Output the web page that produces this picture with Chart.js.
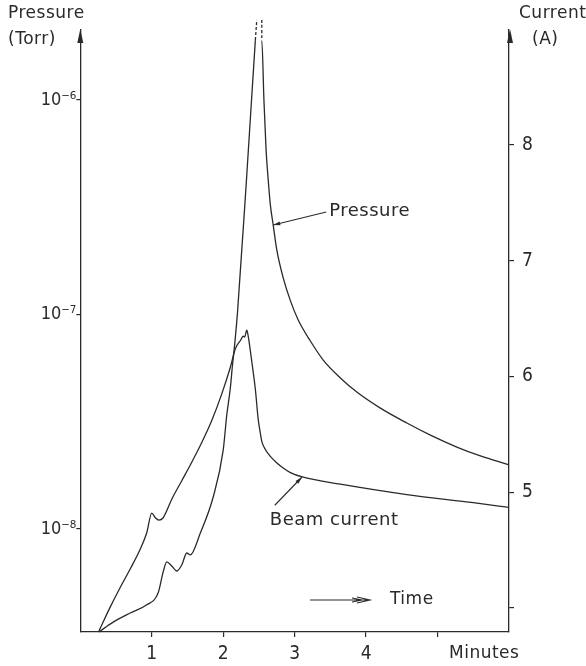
<!DOCTYPE html>
<html>
<head>
<meta charset="utf-8">
<script src="https://cdn.jsdelivr.net/npm/chart.js@4.4.1/dist/chart.umd.min.js"></script>
<style>
  html, body { margin: 0; padding: 0; background: #fff; }
  #wrap { width: 586px; height: 666px; }
</style>
</head>
<body>
<div id="wrap"><canvas id="c" width="586" height="666"></canvas></div>
<script>
// Chamber pressure (Torr, log scale) and beam current (A) against time (minutes)
const pressureTime = [0.26, 0.46, 0.70, 0.93, 1.09, 1.16, 1.21, 1.28, 1.35, 1.42, 1.49, 1.54, 1.68, 1.86, 2.00, 2.05, 2.10, 2.13, 2.16, 2.20, 2.33, 2.45, 2.47, 2.50, 2.54, 2.54, 2.57, 2.60, 2.63, 2.66, 2.70, 2.75, 2.84, 2.94, 3.05, 3.22, 3.40, 3.64, 3.87, 4.20, 4.57, 4.90, 5.27, 5.60, 6.00];
const pressureTorr = [3.31e-9, 3.68e-9, 4.06e-9, 4.43e-9, 5.04e-9, 6.31e-9, 7.02e-9, 6.72e-9, 6.37e-9, 6.79e-9, 7.73e-9, 7.57e-9, 9.58e-9, 1.41e-8, 2.33e-8, 3.40e-8, 4.54e-8, 5.81e-8, 7.21e-8, 1.02e-7, 4.47e-7, 1.90e-6, 2.36e-6, null, 2.36e-6, 1.90e-6, 1.00e-6, 5.85e-7, 4.24e-7, 3.24e-7, 2.61e-7, 2.00e-7, 1.48e-7, 1.16e-7, 9.42e-8, 7.52e-8, 6.13e-8, 5.06e-8, 4.35e-8, 3.66e-8, 3.12e-8, 2.74e-8, 2.41e-8, 2.19e-8, 1.99e-8];

const currentTime = [0.26, 0.42, 0.56, 0.70, 0.84, 0.93, 1.00, 1.05, 1.10, 1.16, 1.28, 1.42, 1.56, 1.70, 1.84, 1.98, 2.10, 2.17, 2.25, 2.28, 2.30, 2.33, 2.35, 2.40, 2.45, 2.49, 2.52, 2.54, 2.59, 2.66, 2.74, 2.84, 2.94, 3.12, 3.64, 4.57, 5.50, 6.00];
const currentAmps = [3.80, 4.01, 4.18, 4.34, 4.51, 4.65, 4.82, 4.78, 4.76, 4.78, 4.94, 5.10, 5.26, 5.43, 5.62, 5.85, 6.08, 6.24, 6.32, 6.35, 6.34, 6.40, 6.35, 6.13, 5.89, 5.63, 5.51, 5.44, 5.37, 5.31, 5.26, 5.21, 5.17, 5.13, 5.07, 4.98, 4.91, 4.87];

const timeTicks = [1, 2, 3, 4, 5];
const timeLabels = ['1', '2', '3', '4', ''];
const pressureTicks = [1e-8, 1e-7, 1e-6];
const pressureLabels = ['10⁻⁸', '10⁻⁷', '10⁻⁶'];
const currentTicks = [4, 5, 6, 7, 8];
const currentLabels = ['', '5', '6', '7', '8'];

const INK = '#2a2a2a';
const TEXT_FONT = '17px "DejaVu Sans", sans-serif';
const NOTE_FONT = '18px "DejaVu Sans", sans-serif';
const DIGIT_FONT = { family: '"Liberation Sans Narrow", "DejaVu Sans Condensed", "DejaVu Sans", sans-serif', size: 19 };

function labelFrom(values, labels) {
  return v => {
    const i = values.findIndex(t => Math.abs(t - v) < 1e-12 || Math.abs(t / v - 1) < 1e-6);
    return i >= 0 ? labels[i] : '';
  };
}

function arrowHead(ctx, fromX, fromY, tipX, tipY, len, half) {
  const ang = Math.atan2(tipY - fromY, tipX - fromX);
  ctx.beginPath();
  ctx.moveTo(tipX, tipY);
  ctx.lineTo(tipX - len * Math.cos(ang) + half * Math.sin(ang), tipY - len * Math.sin(ang) - half * Math.cos(ang));
  ctx.lineTo(tipX - len * Math.cos(ang) - half * Math.sin(ang), tipY - len * Math.sin(ang) + half * Math.cos(ang));
  ctx.closePath();
  ctx.fill();
}

// Axis arrows, titles and the hand-lettered curve labels
const notes = {
  id: 'notes',
  afterDraw(chart) {
    const { ctx, chartArea: area, scales } = chart;
    const { x, p, a } = scales;
    ctx.save();
    ctx.fillStyle = INK;
    ctx.strokeStyle = INK;
    ctx.lineWidth = 1.1;

    // arrowheads at the top of both vertical axes
    [area.left, area.right + 1].forEach(ax => {
      ctx.beginPath();
      ctx.moveTo(ax, area.top - 1);
      ctx.lineTo(ax - 3, area.top + 13);
      ctx.lineTo(ax + 3, area.top + 13);
      ctx.closePath();
      ctx.fill();
    });

    ctx.font = TEXT_FONT;
    ctx.textBaseline = 'middle';
    ctx.textAlign = 'left';
    ctx.letterSpacing = '0.5px';
    ctx.fillText('Pressure', 8, 14);
    ctx.fillText('(Torr)', 8, 40);
    ctx.fillText('Current', area.right + 10, 14);
    ctx.fillText('(A)', area.right + 23, 40);
    ctx.fillText('Minutes', area.right - 60, 654);

    // "Pressure" leader
    ctx.font = NOTE_FONT;
    const pt = { x: x.getPixelForValue(2.70), y: p.getPixelForValue(2.61e-7) };
    const pEnd = { x: pt.x + 53, y: pt.y - 13 };
    ctx.beginPath();
    ctx.moveTo(pEnd.x, pEnd.y);
    ctx.lineTo(pt.x, pt.y);
    ctx.stroke();
    arrowHead(ctx, pEnd.x, pEnd.y, pt.x, pt.y, 7, 2);
    ctx.fillText('Pressure', pEnd.x + 3, pEnd.y - 1);

    // "Beam current" leader
    const bt = { x: x.getPixelForValue(3.10), y: a.getPixelForValue(5.13) };
    const bEnd = { x: bt.x - 27, y: bt.y + 28 };
    ctx.beginPath();
    ctx.moveTo(bEnd.x, bEnd.y);
    ctx.lineTo(bt.x, bt.y);
    ctx.stroke();
    arrowHead(ctx, bEnd.x, bEnd.y, bt.x, bt.y, 7, 2);
    ctx.fillText('Beam current', bt.x - 32, bt.y + 43);

    // time direction arrow
    const ty = 600;
    ctx.beginPath();
    ctx.moveTo(310, ty);
    ctx.lineTo(369, ty);
    ctx.moveTo(357, ty - 3);
    ctx.lineTo(370, ty);
    ctx.lineTo(357, ty + 3);
    ctx.moveTo(352, ty - 2);
    ctx.lineTo(362, ty);
    ctx.lineTo(352, ty + 2);
    ctx.stroke();
    ctx.font = TEXT_FONT;
    ctx.fillText('Time', 390, ty);

    ctx.restore();
  }
};

const axisGrid = { display: true, drawOnChartArea: false, drawTicks: true, tickLength: 5, color: INK, lineWidth: 1.2 };
const axisBorder = { display: true, color: INK, width: 1.3 };

new Chart(document.getElementById('c'), {
  type: 'line',
  data: {
    datasets: [
      {
        label: 'Pressure',
        data: pressureTime.map((t, i) => ({ x: t, y: pressureTorr[i] })),
        yAxisID: 'p',
        borderColor: INK,
        borderWidth: 1.3,
        pointRadius: 0,
        spanGaps: false,
        clip: false,
        cubicInterpolationMode: 'monotone',
        segment: {
          borderDash: c => (c.p0.parsed.y > 2e-6 || c.p1.parsed.y > 2e-6) ? [3, 2] : undefined
        }
      },
      {
        label: 'Beam current',
        data: currentTime.map((t, i) => ({ x: t, y: currentAmps[i] })),
        yAxisID: 'a',
        borderColor: INK,
        borderWidth: 1.3,
        pointRadius: 0,
        cubicInterpolationMode: 'monotone'
      }
    ]
  },
  options: {
    responsive: false,
    animation: false,
    layout: { padding: { top: 30, left: 0, right: 0, bottom: 0 } },
    plugins: { legend: { display: false }, tooltip: { enabled: false } },
    scales: {
      x: {
        type: 'linear',
        min: 0,
        max: 6.0,
        grid: axisGrid,
        border: axisBorder,
        afterBuildTicks: s => { s.ticks = timeTicks.map(v => ({ value: v })); },
        afterFit: s => { s.height = 34; },
        ticks: { color: INK, font: DIGIT_FONT, padding: 6, maxRotation: 0, callback: labelFrom(timeTicks, timeLabels) }
      },
      p: {
        type: 'logarithmic',
        position: 'left',
        min: 3.31e-9,
        max: 2.118e-6,
        grid: { ...axisGrid, tickLength: 4 },
        border: axisBorder,
        afterBuildTicks: s => { s.ticks = pressureTicks.map(v => ({ value: v })); },
        afterFit: s => { s.width = 80.3; },
        ticks: { color: INK, font: { ...DIGIT_FONT, size: 18 }, padding: 0, callback: labelFrom(pressureTicks, pressureLabels) }
      },
      a: {
        type: 'linear',
        position: 'right',
        min: 3.793,
        max: 8.994,
        grid: axisGrid,
        border: axisBorder,
        afterBuildTicks: s => { s.ticks = currentTicks.map(v => ({ value: v })); },
        afterFit: s => { s.width = 77; },
        ticks: { color: INK, font: DIGIT_FONT, padding: 8, callback: labelFrom(currentTicks, currentLabels) }
      }
    }
  },
  plugins: [notes]
});
</script>
</body>
</html>
